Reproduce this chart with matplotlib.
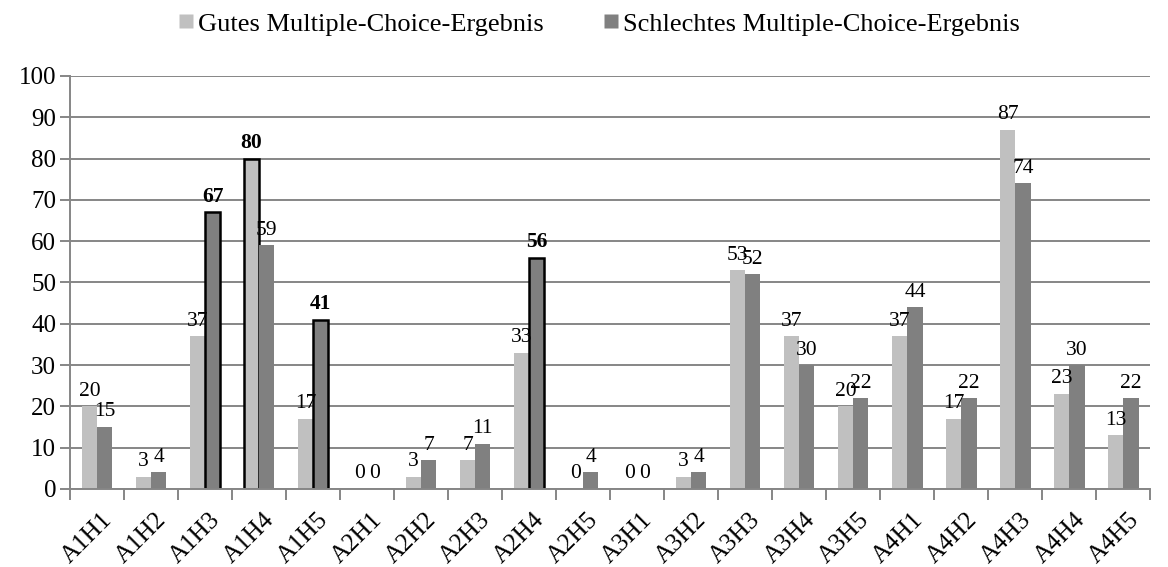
import numpy as np
import matplotlib.pyplot as plt
from matplotlib.lines import Line2D

plt.rcParams['font.family'] = ['Liberation Serif', 'DejaVu Serif']

aufgaben = ['A1H1', 'A1H2', 'A1H3', 'A1H4', 'A1H5',
            'A2H1', 'A2H2', 'A2H3', 'A2H4', 'A2H5',
            'A3H1', 'A3H2', 'A3H3', 'A3H4', 'A3H5',
            'A4H1', 'A4H2', 'A4H3', 'A4H4', 'A4H5']
gut = [20, 3, 37, 80, 17, 0, 3, 7, 33, 0, 0, 3, 53, 37, 20, 37, 17, 87, 23, 13]
schlecht = [15, 4, 67, 59, 41, 0, 7, 11, 56, 4, 0, 4, 52, 30, 22, 44, 22, 74, 30, 22]
# hervorgehobene Balken (fett umrandet, fette Beschriftung)
gut_fett = ['A1H4']
schlecht_fett = ['A1H3', 'A1H5', 'A2H4']

hell = '#c0c0c0'
dunkel = '#808080'
gitter = '#868686'

fig = plt.figure(figsize=(11.68, 5.67), dpi=100)
ax = fig.add_axes([0.06, 0.1376, 0.925, 0.7284])

x = np.arange(len(aufgaben))
w = 0.28

def zeichne(werte, dx, farbe, fett):
    for i, v in enumerate(werte):
        hervor = aufgaben[i] in fett
        ax.bar(x[i] + dx, v, w, color=farbe,
               edgecolor='black' if hervor else 'none',
               linewidth=1.8 if hervor else 0, zorder=3)
        ax.annotate(str(v), (x[i] + dx, v), xytext=(0, 4),
                    textcoords='offset points', ha='center', va='bottom',
                    fontsize=15.5, fontweight='bold' if hervor else 'normal',
                    zorder=4)

zeichne(gut, -w / 2, hell, gut_fett)
zeichne(schlecht, w / 2, dunkel, schlecht_fett)

ax.set_xlim(-0.5, len(aufgaben) - 0.5)
ax.set_ylim(0, 100)
ax.set_yticks(range(0, 101, 10))
ax.yaxis.grid(True, color=gitter, linewidth=1.4, zorder=0)
ax.tick_params(axis='y', length=7, width=1.4, color=gitter, labelsize=18, pad=3)

# Striche zwischen den Kategorien, Beschriftung in der Mitte
ax.set_xticks(np.arange(len(aufgaben) + 1) - 0.5)
ax.set_xticklabels([])
ax.tick_params(axis='x', length=8, width=1.4, color=gitter)
for i, name in enumerate(aufgaben):
    ax.text(x[i] + 0.22, -6.6, name, rotation=45, rotation_mode='anchor',
            ha='right', va='center', fontsize=18)

for s in ['top', 'right']:
    ax.spines[s].set_visible(False)
for s in ['left', 'bottom']:
    ax.spines[s].set_color(gitter)
    ax.spines[s].set_linewidth(1.4)
ax.spines['bottom'].set_zorder(5)

griffe = [Line2D([], [], marker='s', linestyle='none', markersize=10,
                 markerfacecolor=hell, markeredgecolor='none'),
          Line2D([], [], marker='s', linestyle='none', markersize=10,
                 markerfacecolor=dunkel, markeredgecolor='none')]
fig.legend(griffe, ['Gutes Multiple-Choice-Ergebnis', 'Schlechtes Multiple-Choice-Ergebnis'],
           loc='center', bbox_to_anchor=(0.5115, 0.958), ncol=2, frameon=False,
           fontsize=19, handletextpad=0.05, columnspacing=2.15, handlelength=0.8)

fig.savefig('out.png', dpi=100)
